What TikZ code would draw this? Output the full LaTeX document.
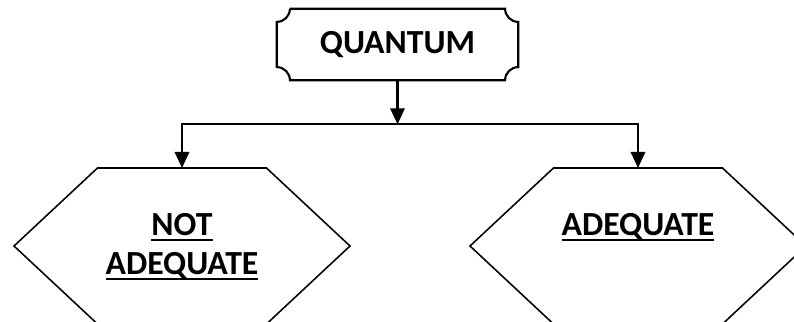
\documentclass[tikz,border=0pt]{standalone}
\usepackage{fontspec}
\setmainfont{Carlito}
\usepackage{tikz}
\usetikzlibrary{arrows.meta, positioning, calc}

\newsavebox{\ulbox}
\newcommand{\ulbold}[1]{\sbox{\ulbox}{#1}\rlap{\rule[-3.8pt]{\wd\ulbox}{1.4pt}}\usebox{\ulbox}}

\begin{document}
\begin{tikzpicture}[
  label/.style={font=\fontsize{24}{27.7}\selectfont\bfseries, align=center, inner sep=0pt},
  plaque/.style={line width=1.5pt},
  hexline/.style={line width=1.1pt},
  arr/.style={line width=1.5pt, -{Triangle[width=0.36cm, length=0.4cm]}}]

  \useasboundingbox (0,0) rectangle (19.85,8.05);

  \node[label, minimum width=6.025cm, minimum height=1.775cm] (quantum) at (9.9375,6.9375) {QUANTUM};
  \draw[plaque] ($(quantum.north west)+(0.33,0)$) -- ($(quantum.north east)+(-0.33,0)$)
    arc[start angle=180, end angle=270, radius=0.33]
    -- ($(quantum.south east)+(0,0.33)$)
    arc[start angle=90, end angle=180, radius=0.33]
    -- ($(quantum.south west)+(0.33,0)$)
    arc[start angle=0, end angle=90, radius=0.33]
    -- ($(quantum.north west)+(0,-0.33)$)
    arc[start angle=270, end angle=360, radius=0.33];

  \coordinate[below=1.1cm of quantum.south] (split);

  % hexagons
  \coordinate (nottop) at (4.55,3.85);
  \coordinate (adqtop) at (15.95,3.85);
  \draw[hexline] (nottop) ++(-2.1125,0) -- ++(4.225,0) -- ++(2.0875,-1.95)
    -- ++(-2.0875,-1.95) -- ++(-4.225,0) -- ++(-2.0875,1.95) -- cycle;
  \draw[hexline] (adqtop) ++(-2.1125,0) -- ++(4.225,0) -- ++(2.0875,-1.95)
    -- ++(-2.0875,-1.95) -- ++(-4.225,0) -- ++(-2.0875,1.95) -- cycle;

  \node[label] (notadq) at (4.55,1.89) {\ulbold{NOT}\\\ulbold{ADEQUATE}};
  \node[label] (adq) at (15.95,2.38) {\ulbold{ADEQUATE}};

  \draw[arr] (quantum.south) -- (split);
  \draw[arr] (split) -| (nottop);
  \draw[arr] (split) -| (adqtop);
\end{tikzpicture}
\end{document}
